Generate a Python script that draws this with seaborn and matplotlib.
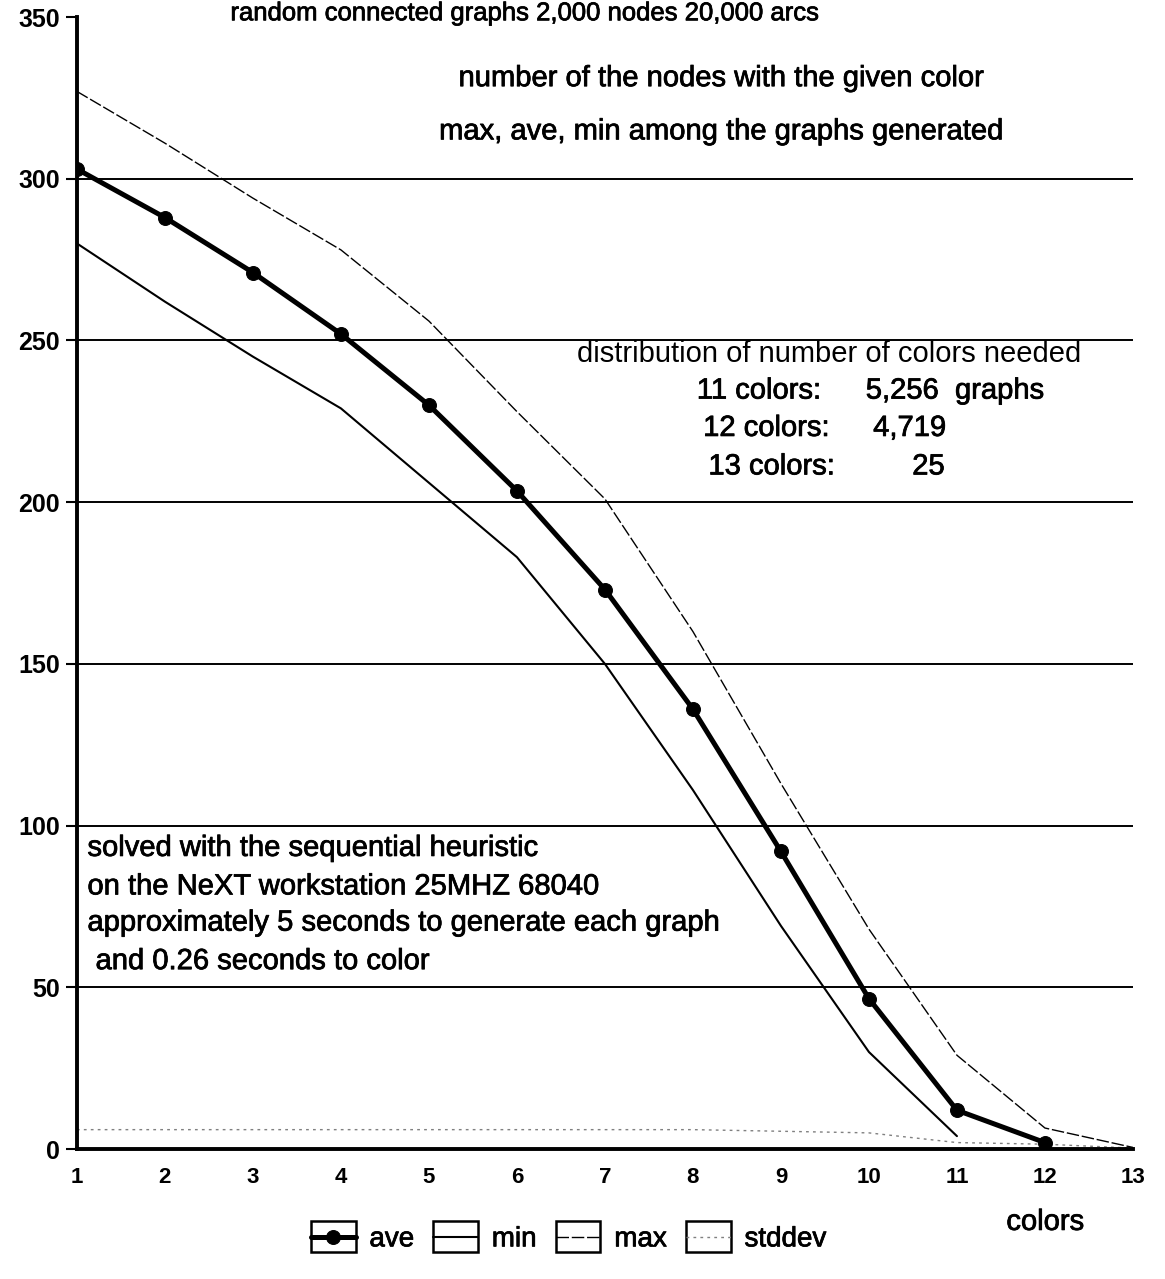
import matplotlib
matplotlib.use('Agg')
import matplotlib.pyplot as plt
import matplotlib.patheffects as pe
import seaborn as sns
from matplotlib.legend_handler import HandlerLine2D
from matplotlib.patches import Rectangle

# number of colors (x axis)
colors = [1, 2, 3, 4, 5, 6, 7, 8, 9, 10, 11, 12, 13]

# number of nodes with the given color
ave_nodes = [303, 288, 271, 252, 230, 203.5, 173, 136, 92, 46.5, 12, 2]
min_nodes = [280, 262, 245, 229, 206, 183, 150, 111, 69, 30, 4]
max_nodes = [327, 311, 294, 278, 256, 228, 201, 160, 113, 68, 29, 6.5, 0.5]
std_nodes = [6, 6, 6, 6, 6, 6, 6, 6, 5.5, 5, 2, 1.5, 0.3]

y_ticks = [0, 50, 100, 150, 200, 250, 300, 350]

title = 'random connected graphs 2,000 nodes 20,000 arcs'
note_top = ['number of the nodes with the given color',
            'max, ave, min among the graphs generated']
note_bottom = ['solved with the sequential heuristic',
               'on the NeXT workstation 25MHZ 68040',
               'approximately 5 seconds to generate each graph',
               ' and 0.26 seconds to color']
dist_counts = [('11 colors:', '5,256  graphs'),
               ('12 colors:', '4,719'),
               ('13 colors:', '25')]


class BoxedLine(HandlerLine2D):
    def create_artists(self, legend, orig_handle, xdescent, ydescent,
                       width, height, fontsize, trans):
        arts = super().create_artists(legend, orig_handle, xdescent, ydescent,
                                      width, height, fontsize, trans)
        box = Rectangle((-xdescent, -ydescent - 0.3 * height), width, 1.6 * height,
                        fill=False, edgecolor='black', lw=1.8, transform=trans)
        return [box] + arts


sns.set_style('white')
plt.rcParams['font.family'] = ['Liberation Sans', 'DejaVu Sans']
plt.rcParams['text.color'] = 'black'
plt.rcParams['xtick.color'] = 'black'
plt.rcParams['ytick.color'] = 'black'
plt.rcParams['axes.labelcolor'] = 'black'

heavy = [pe.withStroke(linewidth=0.55, foreground='black')]

fig = plt.figure(figsize=(11.65, 12.79), dpi=100)
ax = fig.add_axes([0.066, 0.1016, 0.9065, 0.8851])

sns.lineplot(x=colors, y=std_nodes, ax=ax, color='0.5', lw=1.0,
             linestyle=(0, (2, 3)), label='stddev', legend=False)
sns.lineplot(x=colors[:len(min_nodes)], y=min_nodes, ax=ax, color='black',
             lw=1.5, label='min', legend=False)
sns.lineplot(x=colors[:len(max_nodes)], y=max_nodes, ax=ax, color='black',
             lw=1.0, linestyle=(0, (9, 2)), label='max', legend=False)
sns.lineplot(x=colors[:len(ave_nodes)], y=ave_nodes, ax=ax, color='black',
             lw=3.6, marker='o', markersize=10, markeredgecolor='black',
             label='ave', legend=False)

ax.set_xlim(1, 13)
ax.set_ylim(0, 350)
ax.set_xticks(colors, labels=[str(c) for c in colors],
              fontsize=16, fontweight='bold')
ax.set_yticks(y_ticks, labels=[str(v) for v in y_ticks],
              fontsize=18, fontweight='bold')
for y in y_ticks[1:-1]:
    ax.axhline(y, color='black', lw=1.4, zorder=0)

for s in ['top', 'right']:
    ax.spines[s].set_visible(False)
for s in ['left', 'bottom']:
    ax.spines[s].set_color('black')
    ax.spines[s].set_linewidth(2.8)

ax.tick_params(axis='y', length=8, width=1.5, left=True, pad=4)
ax.tick_params(axis='x', length=0, pad=13)

ax.set_xlabel('colors', fontsize=21, path_effects=heavy)
ax.xaxis.set_label_coords(0.917, -0.052)

fig.text(0.451, 0.999, title, ha='center', va='top', fontsize=18.5,
         path_effects=heavy)

for txt, ty in zip(note_top, [0.946, 0.899]):
    ax.text(0.610, ty, txt, transform=ax.transAxes, ha='center', va='center',
            fontsize=21, path_effects=heavy)

ax.text(0.474, 0.702, 'distribution of number of colors needed',
        transform=ax.transAxes, ha='left', va='center', fontsize=21)
for (lbl, val), ty, lx, vx in zip(dist_counts, [0.670, 0.637, 0.603],
                                  [0.587, 0.593, 0.598], [0.747, 0.754, 0.791]):
    ax.text(lx, ty, lbl, transform=ax.transAxes, ha='left', va='center',
            fontsize=21, path_effects=heavy)
    ax.text(vx, ty, val, transform=ax.transAxes, ha='left', va='center',
            fontsize=21, path_effects=heavy)

for txt, ty in zip(note_bottom, [0.266, 0.232, 0.200, 0.166]):
    ax.text(0.010, ty, txt, transform=ax.transAxes, ha='left', va='center',
            fontsize=21, path_effects=heavy)

lines = {l.get_label(): l for l in ax.get_lines()}
order = ['ave', 'min', 'max', 'stddev']
leg = fig.legend([lines[k] for k in order], order, loc='center', ncol=4,
                 bbox_to_anchor=(0.488, 0.031), frameon=False, fontsize=20,
                 handlelength=1.6, handletextpad=0.5, columnspacing=0.7,
                 handler_map={l: BoxedLine() for l in lines.values()})
for t in leg.get_texts():
    t.set_path_effects(heavy)

fig.savefig('out.png', dpi=100, facecolor='white')
